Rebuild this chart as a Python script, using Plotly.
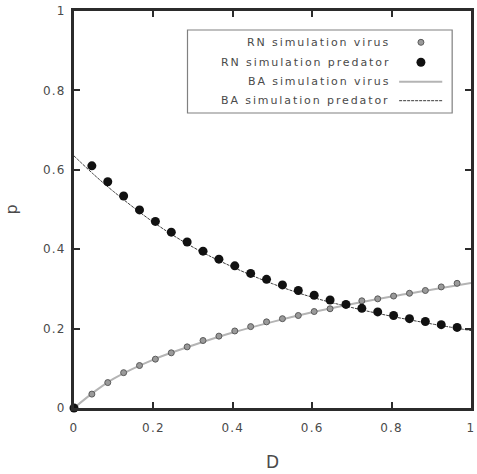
import plotly.graph_objects as go

# RN simulation results (dots)
d_rn = [0.0, 0.045, 0.085, 0.125, 0.165, 0.205, 0.245, 0.285, 0.325, 0.365, 0.405,
        0.445, 0.485, 0.525, 0.565, 0.605, 0.645, 0.685, 0.725, 0.765, 0.805,
        0.845, 0.885, 0.925, 0.965]
rn_virus = [0.0, 0.035, 0.064, 0.089, 0.107, 0.123, 0.139, 0.154, 0.170, 0.181,
            0.194, 0.205, 0.217, 0.225, 0.233, 0.243, 0.250, 0.262, 0.270, 0.275,
            0.282, 0.289, 0.296, 0.305, 0.314]
rn_predator = [0.0, 0.610, 0.570, 0.534, 0.499, 0.470, 0.443, 0.418, 0.395, 0.375,
               0.358, 0.339, 0.324, 0.310, 0.296, 0.284, 0.272, 0.261, 0.251, 0.242,
               0.233, 0.225, 0.218, 0.210, 0.203]

# BA simulation results (curves)
d_ba = [0.0, 0.05, 0.1, 0.2, 0.3, 0.4, 0.5, 0.6, 0.7, 0.8, 0.9, 1.0]
ba_virus = [0.0, 0.040, 0.074, 0.122, 0.158, 0.190, 0.217, 0.241, 0.262, 0.281, 0.298, 0.315]
ba_predator = [0.635, 0.588, 0.545, 0.468, 0.405, 0.355, 0.313, 0.279, 0.253, 0.231, 0.212, 0.195]

legend_labels = ["RN simulation virus", "RN simulation predator",
                 "BA simulation virus", "BA simulation predator"]

tick_vals = [0, 0.2, 0.4, 0.6, 0.8, 1]
tick_text = ["0", "0.2", "0.4", "0.6", "0.8", "1"]

FONT = "DejaVu Sans"
TXT = "#4a4a4a"
AX = "#2b2b2b"


def spaced(s, ls):
    return f'<span style="letter-spacing:{ls}px">{s}</span>'


fig = go.Figure()
fig.add_trace(go.Scatter(x=d_ba, y=ba_virus, mode="lines", line_shape="spline",
                         line=dict(color="#b4b4b4", width=2), cliponaxis=False))
fig.add_trace(go.Scatter(x=d_ba, y=ba_predator, mode="lines", line_shape="spline",
                         line=dict(color="#3a3a3a", width=1, dash="3px,1px"), cliponaxis=False))
fig.add_trace(go.Scatter(x=d_rn, y=rn_virus, mode="markers", cliponaxis=False,
                         marker=dict(size=6, color="#9a9a9a",
                                     line=dict(color="#5a5a5a", width=1))))
fig.add_trace(go.Scatter(x=d_rn, y=rn_predator, mode="markers", cliponaxis=False,
                         marker=dict(size=9, color="#111111")))

# key box in the upper right, gnuplot style: label then sample
W, H = 477, 474
L, R, T, B = 73.5, 474.0, 11.0, 408.0


def px(x):
    return (x - L) / (R - L)


def py(y):
    return (B - y) / (B - T)


shapes = [dict(type="rect", xref="paper", yref="paper",
               x0=px(188), x1=px(455), y0=py(113), y1=py(30),
               line=dict(color="#808080", width=1.2), fillcolor="white", layer="above")]
rows = [42.3, 62.3, 81.7, 100.7]
annotations = []
for lab, ry in zip(legend_labels, rows):
    annotations.append(dict(xref="paper", yref="paper", x=px(394), y=py(ry),
                            text=spaced(lab, 1.9), showarrow=False,
                            xanchor="right", yanchor="middle",
                            font=dict(family=FONT, size=11, color=TXT)))
shapes.append(dict(type="circle", xref="paper", yref="paper",
                   x0=px(420.5), x1=px(426.5), y0=py(rows[0] + 3), y1=py(rows[0] - 3),
                   fillcolor="#9a9a9a", line=dict(color="#5a5a5a", width=1), layer="above"))
shapes.append(dict(type="circle", xref="paper", yref="paper",
                   x0=px(419), x1=px(428), y0=py(rows[1] + 4.5), y1=py(rows[1] - 4.5),
                   fillcolor="#111111", line=dict(color="#111111", width=0), layer="above"))
shapes.append(dict(type="line", xref="paper", yref="paper",
                   x0=px(401.5), x1=px(445), y0=py(rows[2]), y1=py(rows[2]),
                   line=dict(color="#b4b4b4", width=2), layer="above"))
shapes.append(dict(type="line", xref="paper", yref="paper",
                   x0=px(401.5), x1=px(445), y0=py(rows[3]), y1=py(rows[3]),
                   line=dict(color="#3a3a3a", width=1, dash="3px,1px"), layer="above"))

spaced_ticks = [spaced(t, 1.2) for t in tick_text]
axis_common = dict(range=[0, 1], tickvals=tick_vals, ticktext=spaced_ticks,
                   showline=True, linecolor=AX, linewidth=3, mirror="ticks",
                   ticks="inside", ticklen=6, tickwidth=2, tickcolor=AX,
                   showgrid=False, zeroline=False,
                   tickfont=dict(family=FONT, size=12, color=TXT))

fig.update_layout(
    width=W, height=H,
    margin=dict(l=L, r=W - R, t=T, b=H - B),
    paper_bgcolor="white", plot_bgcolor="white",
    showlegend=False,
    xaxis=dict(**axis_common, ticklabelstandoff=7,
               title=dict(text="D", standoff=22,
                          font=dict(family=FONT, size=17, color=TXT))),
    yaxis=dict(**axis_common, ticklabelstandoff=3,
               title=dict(text="p", standoff=22,
                          font=dict(family=FONT, size=16, color=TXT))),
    shapes=shapes, annotations=annotations,
)

fig.write_html("out.html")
